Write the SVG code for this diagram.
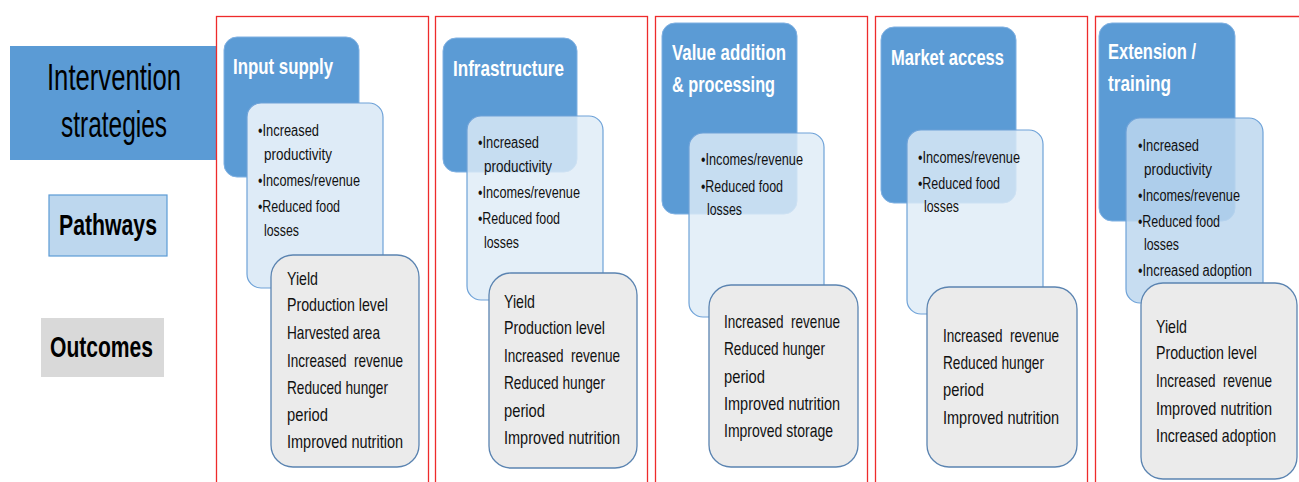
<svg xmlns="http://www.w3.org/2000/svg" width="1299" height="482" viewBox="0 0 1299 482">
<style>
.frame{fill:none;stroke:#ee2b2b;stroke-width:1.3}
.hdr{fill:#5b9bd5;stroke:#7fb0e2;stroke-width:1}
.pw{fill:#deebf7;stroke:#6ea2d8;stroke-width:1.2}
.pwt{fill:#deebf7;fill-opacity:0.82;stroke:#6ea2d8;stroke-width:1.2}
.pw5{fill:#bdd7ee;fill-opacity:0.85;stroke:#6ea2d8;stroke-width:1.2}
.oc{fill:#ebebeb;stroke:#5b84b1;stroke-width:1.3}
text{font-family:"Liberation Sans",Arial,sans-serif}
.ht{fill:#ffffff;font-weight:bold;font-size:22.5px}
.pt{fill:#111;font-size:16px}
.ot{fill:#111;font-size:18.5px}
.lg{fill:#000;font-size:37px}
.lgb{fill:#000;font-size:29px;font-weight:bold}
</style>
<rect width="1299" height="482" fill="#ffffff"/>

<g id="legend-intervention">
<rect x="10" y="46" width="206" height="114" fill="#5b9bd5"/>
<text class="lg" x="47" y="90" textLength="134" lengthAdjust="spacingAndGlyphs">Intervention</text>
<text class="lg" x="61" y="137" textLength="106" lengthAdjust="spacingAndGlyphs">strategies</text>
</g>
<g id="legend-pathways">
<rect x="49" y="195" width="118" height="61" fill="#bdd7ee" stroke="#5b9bd5" stroke-width="1.2"/>
<text class="lgb" x="59" y="235" textLength="98" lengthAdjust="spacingAndGlyphs">Pathways</text>
</g>
<g id="legend-outcomes">
<rect x="41" y="318" width="123" height="59" fill="#d9d9d9"/>
<text class="lgb" x="50" y="357" textLength="103" lengthAdjust="spacingAndGlyphs">Outcomes</text>
</g>

<g id="col-input-supply">
<rect class="frame" x="216.5" y="16.5" width="212" height="480"/>
<rect class="hdr" x="224" y="37" width="135" height="140" rx="13"/>
<text class="ht" x="233" y="74" textLength="100" lengthAdjust="spacingAndGlyphs">Input supply</text>
<rect class="pw" x="247" y="103" width="136" height="185" rx="14"/>
<text class="pt" x="258" y="136" textLength="61" lengthAdjust="spacingAndGlyphs">•Increased</text>
<text class="pt" x="264" y="160" textLength="68" lengthAdjust="spacingAndGlyphs">productivity</text>
<text class="pt" x="258" y="186" textLength="102" lengthAdjust="spacingAndGlyphs">•Incomes/revenue</text>
<text class="pt" x="258" y="212" textLength="82" lengthAdjust="spacingAndGlyphs">•Reduced food</text>
<text class="pt" x="264" y="236" textLength="35" lengthAdjust="spacingAndGlyphs">losses</text>
<rect class="oc" x="271" y="255" width="148" height="212" rx="22"/>
<text class="ot" x="287" y="285" textLength="31" lengthAdjust="spacingAndGlyphs">Yield</text>
<text class="ot" x="287" y="311" textLength="101" lengthAdjust="spacingAndGlyphs">Production level</text>
<text class="ot" x="287" y="339" textLength="93" lengthAdjust="spacingAndGlyphs">Harvested area</text>
<text class="ot" x="287" y="367" textLength="116" lengthAdjust="spacingAndGlyphs" xml:space="preserve">Increased  revenue</text>
<text class="ot" x="287" y="394" textLength="101" lengthAdjust="spacingAndGlyphs">Reduced hunger</text>
<text class="ot" x="287" y="421" textLength="41" lengthAdjust="spacingAndGlyphs">period</text>
<text class="ot" x="287" y="448" textLength="116" lengthAdjust="spacingAndGlyphs">Improved nutrition</text>
</g>

<g id="col-infrastructure">
<rect class="frame" x="435.5" y="16.5" width="212" height="480"/>
<rect class="hdr" x="443" y="38" width="134" height="134" rx="13"/>
<text class="ht" x="453" y="76" textLength="111" lengthAdjust="spacingAndGlyphs">Infrastructure</text>
<rect class="pwt" x="467" y="116" width="136" height="184" rx="14"/>
<text class="pt" x="478" y="148" textLength="61" lengthAdjust="spacingAndGlyphs">•Increased</text>
<text class="pt" x="484" y="172" textLength="68" lengthAdjust="spacingAndGlyphs">productivity</text>
<text class="pt" x="478" y="198" textLength="102" lengthAdjust="spacingAndGlyphs">•Incomes/revenue</text>
<text class="pt" x="478" y="224" textLength="82" lengthAdjust="spacingAndGlyphs">•Reduced food</text>
<text class="pt" x="484" y="248" textLength="35" lengthAdjust="spacingAndGlyphs">losses</text>
<rect class="oc" x="489" y="273" width="148" height="195" rx="22"/>
<text class="ot" x="504" y="308" textLength="31" lengthAdjust="spacingAndGlyphs">Yield</text>
<text class="ot" x="504" y="334" textLength="101" lengthAdjust="spacingAndGlyphs">Production level</text>
<text class="ot" x="504" y="362" textLength="116" lengthAdjust="spacingAndGlyphs" xml:space="preserve">Increased  revenue</text>
<text class="ot" x="504" y="389" textLength="101" lengthAdjust="spacingAndGlyphs">Reduced hunger</text>
<text class="ot" x="504" y="417" textLength="41" lengthAdjust="spacingAndGlyphs">period</text>
<text class="ot" x="504" y="444" textLength="116" lengthAdjust="spacingAndGlyphs">Improved nutrition</text>
</g>

<g id="col-value-addition">
<rect class="frame" x="655.5" y="16.5" width="212" height="480"/>
<rect class="hdr" x="662" y="23" width="135" height="191" rx="13"/>
<text class="ht" x="672" y="60" textLength="114" lengthAdjust="spacingAndGlyphs">Value addition</text>
<text class="ht" x="672" y="92" textLength="103" lengthAdjust="spacingAndGlyphs">&amp; processing</text>
<rect class="pwt" x="689" y="133" width="135" height="184" rx="14"/>
<text class="pt" x="701" y="165" textLength="102" lengthAdjust="spacingAndGlyphs">•Incomes/revenue</text>
<text class="pt" x="701" y="192" textLength="82" lengthAdjust="spacingAndGlyphs">•Reduced food</text>
<text class="pt" x="707" y="215" textLength="35" lengthAdjust="spacingAndGlyphs">losses</text>
<rect class="oc" x="709" y="285" width="149" height="182" rx="22"/>
<text class="ot" x="724" y="328" textLength="116" lengthAdjust="spacingAndGlyphs" xml:space="preserve">Increased  revenue</text>
<text class="ot" x="724" y="355" textLength="101" lengthAdjust="spacingAndGlyphs">Reduced hunger</text>
<text class="ot" x="724" y="383" textLength="41" lengthAdjust="spacingAndGlyphs">period</text>
<text class="ot" x="724" y="410" textLength="116" lengthAdjust="spacingAndGlyphs">Improved nutrition</text>
<text class="ot" x="724" y="437" textLength="109" lengthAdjust="spacingAndGlyphs">Improved storage</text>
</g>

<g id="col-market-access">
<rect class="frame" x="875.5" y="16.5" width="212" height="480"/>
<rect class="hdr" x="881" y="27" width="135" height="176" rx="13"/>
<text class="ht" x="891" y="65" textLength="113" lengthAdjust="spacingAndGlyphs">Market access</text>
<rect class="pwt" x="907" y="130" width="136" height="184" rx="14"/>
<text class="pt" x="918" y="163" textLength="102" lengthAdjust="spacingAndGlyphs">•Incomes/revenue</text>
<text class="pt" x="918" y="189" textLength="82" lengthAdjust="spacingAndGlyphs">•Reduced food</text>
<text class="pt" x="924" y="212" textLength="35" lengthAdjust="spacingAndGlyphs">losses</text>
<rect class="oc" x="927" y="287" width="150" height="180" rx="22"/>
<text class="ot" x="943" y="342" textLength="116" lengthAdjust="spacingAndGlyphs" xml:space="preserve">Increased  revenue</text>
<text class="ot" x="943" y="369" textLength="101" lengthAdjust="spacingAndGlyphs">Reduced hunger</text>
<text class="ot" x="943" y="396" textLength="41" lengthAdjust="spacingAndGlyphs">period</text>
<text class="ot" x="943" y="424" textLength="116" lengthAdjust="spacingAndGlyphs">Improved nutrition</text>
</g>

<g id="col-extension-training">
<path class="frame" d="M1299,16.5 H1095.5 V482"/>
<rect class="hdr" x="1099" y="23" width="136" height="198" rx="13"/>
<text class="ht" x="1108" y="59" textLength="88" lengthAdjust="spacingAndGlyphs">Extension /</text>
<text class="ht" x="1108" y="91" textLength="63" lengthAdjust="spacingAndGlyphs">training</text>
<rect class="pw5" x="1126" y="118" width="137" height="185" rx="14"/>
<text class="pt" x="1138" y="151" textLength="61" lengthAdjust="spacingAndGlyphs">•Increased</text>
<text class="pt" x="1144" y="175" textLength="68" lengthAdjust="spacingAndGlyphs">productivity</text>
<text class="pt" x="1138" y="201" textLength="102" lengthAdjust="spacingAndGlyphs">•Incomes/revenue</text>
<text class="pt" x="1138" y="227" textLength="82" lengthAdjust="spacingAndGlyphs">•Reduced food</text>
<text class="pt" x="1144" y="250" textLength="35" lengthAdjust="spacingAndGlyphs">losses</text>
<text class="pt" x="1138" y="276" textLength="114" lengthAdjust="spacingAndGlyphs">•Increased adoption</text>
<rect class="oc" x="1141" y="283" width="156" height="196" rx="22"/>
<g transform="translate(1156 0) scale(0.8 1)">
<text class="ot" x="0" y="333" textLength="38.75" lengthAdjust="spacingAndGlyphs">Yield</text>
<text class="ot" x="0" y="359" textLength="126.25" lengthAdjust="spacingAndGlyphs">Production level</text>
<text class="ot" x="0" y="387" textLength="145" lengthAdjust="spacingAndGlyphs" xml:space="preserve">Increased  revenue</text>
<text class="ot" x="0" y="415" textLength="145" lengthAdjust="spacingAndGlyphs">Improved nutrition</text>
<text class="ot" x="0" y="442" textLength="150" lengthAdjust="spacingAndGlyphs">Increased adoption</text>
</g>
</g>
</svg>
